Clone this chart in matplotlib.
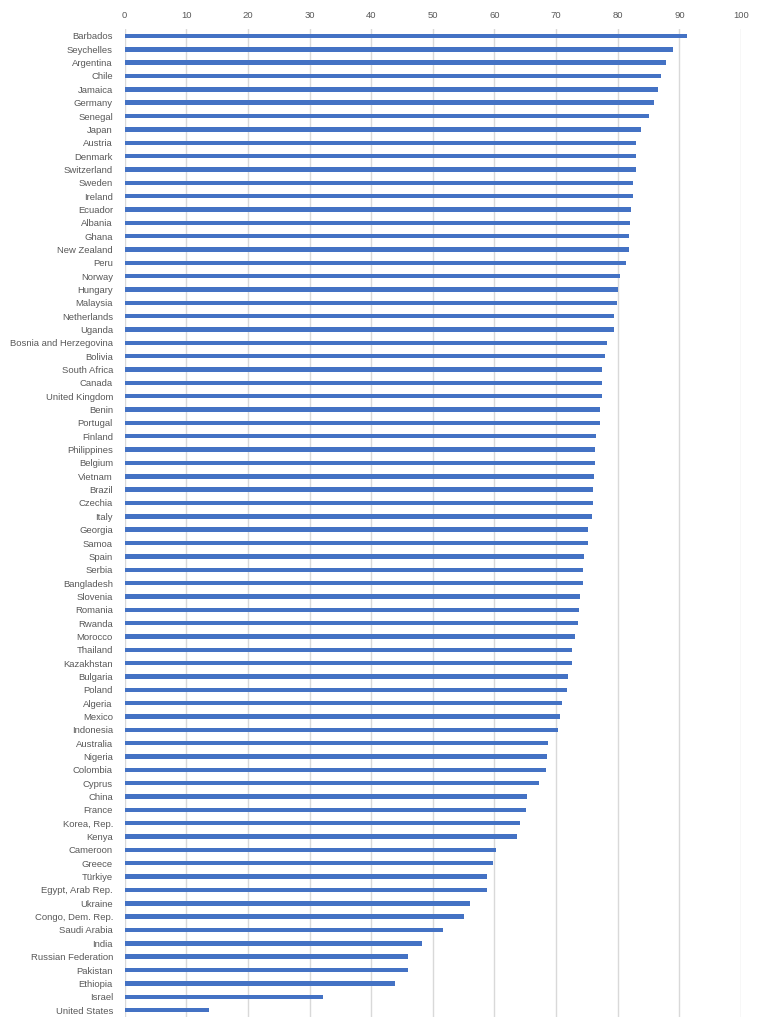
import matplotlib
matplotlib.use("Agg")
import matplotlib.pyplot as plt

countries = [
    "Barbados", "Seychelles", "Argentina", "Chile", "Jamaica", "Germany", "Senegal", "Japan",
    "Austria", "Denmark", "Switzerland", "Sweden", "Ireland", "Ecuador", "Albania", "Ghana",
    "New Zealand", "Peru", "Norway", "Hungary", "Malaysia", "Netherlands", "Uganda",
    "Bosnia and Herzegovina", "Bolivia", "South Africa", "Canada", "United Kingdom", "Benin",
    "Portugal", "Finland", "Philippines", "Belgium", "Vietnam", "Brazil", "Czechia", "Italy",
    "Georgia", "Samoa", "Spain", "Serbia", "Bangladesh", "Slovenia", "Romania", "Rwanda",
    "Morocco", "Thailand", "Kazakhstan", "Bulgaria", "Poland", "Algeria", "Mexico", "Indonesia",
    "Australia", "Nigeria", "Colombia", "Cyprus", "China", "France", "Korea, Rep.", "Kenya",
    "Cameroon", "Greece", "Türkiye", "Egypt, Arab Rep.", "Ukraine", "Congo, Dem. Rep.",
    "Saudi Arabia", "India", "Russian Federation", "Pakistan", "Ethiopia", "Israel",
    "United States",
]

values = [
    91.3, 88.9, 87.9, 87.0, 86.5, 85.9, 85.1, 83.8,
    83.0, 83.0, 82.9, 82.5, 82.5, 82.2, 82.0, 81.9,
    81.8, 81.4, 80.3, 80.0, 79.8, 79.4, 79.4,
    78.2, 77.9, 77.5, 77.4, 77.4, 77.1,
    77.1, 76.4, 76.3, 76.3, 76.1, 76.0, 76.0, 75.8,
    75.2, 75.1, 74.5, 74.4, 74.3, 73.9, 73.7, 73.5,
    73.1, 72.5, 72.5, 72.0, 71.8, 71.0, 70.7, 70.3,
    68.7, 68.5, 68.4, 67.2, 65.3, 65.1, 64.1, 63.6,
    60.2, 59.8, 58.8, 58.8, 56.0, 55.0,
    51.7, 48.3, 46.0, 45.9, 43.8, 32.1,
    13.7,
]

xticks = [0, 10, 20, 30, 40, 50, 60, 70, 80, 90, 100]

plt.rcParams['font.family'] = ['Liberation Sans', 'DejaVu Sans']

fig = plt.figure(figsize=(7.67, 10.24), dpi=100)
ax = fig.add_axes([0.1626, 0.0071, 0.8035, 0.9643])

ypos = list(range(len(countries)))
ax.barh(ypos, values, height=0.33, color="#4472C4", zorder=3)

ax.set_xlim(0, 100)
ax.set_ylim(len(countries) - 0.5, -0.5)
ax.set_xticks(xticks)
ax.set_xticklabels([str(t) for t in xticks])
ax.set_yticks(ypos)
ax.set_yticklabels(countries)

ax.xaxis.set_ticks_position('top')
ax.tick_params(axis='x', top=False, labeltop=True, bottom=False, labelbottom=False,
               length=0, pad=7, labelsize=6.8, labelcolor="#595959")
ax.tick_params(axis='y', left=False, length=0, pad=8.5, labelsize=6.8, labelcolor="#595959")

ax.grid(axis='x', color="#D9D9D9", linewidth=1.0, zorder=0)
ax.set_axisbelow(True)
for s in ax.spines.values():
    s.set_visible(False)

fig.savefig("out.png", dpi=100, facecolor="white")
